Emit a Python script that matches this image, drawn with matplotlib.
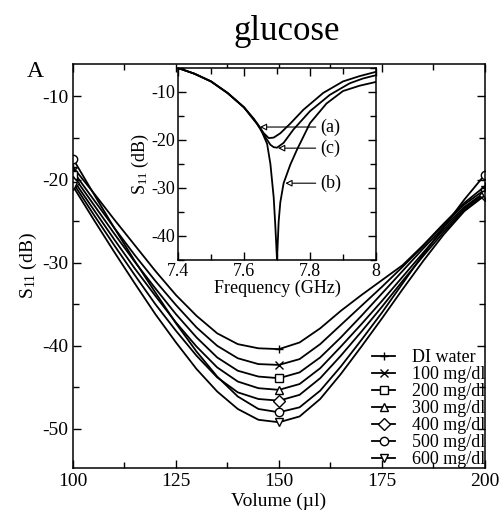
import matplotlib
matplotlib.use('Agg')
import matplotlib.pyplot as plt
from matplotlib.ticker import MultipleLocator

plt.rcParams['font.family'] = ['Liberation Serif', 'DejaVu Serif']
plt.rcParams['mathtext.fontset'] = 'custom'
plt.rcParams['mathtext.rm'] = 'Liberation Serif'
plt.rcParams['mathtext.it'] = 'Liberation Serif:italic'
plt.rcParams['axes.unicode_minus'] = False

# Volumen (µl) y S11 (dB), cada 5 µl
volumen = [100, 105, 110, 115, 120, 125, 130, 135, 140, 145, 150,
           155, 160, 165, 170, 175, 180, 185, 190, 195, 200]
s11_di = [-18.5, -21.6, -24.8, -27.9, -31.0, -33.9, -36.4, -38.5, -39.8, -40.3, -40.4,
          -39.6, -37.9, -35.8, -33.9, -32.1, -30.3, -27.9, -25.3, -22.8, -20.8]
s11_100 = [-19.0, -22.4, -25.8, -29.1, -32.2, -35.1, -37.8, -40.0, -41.5, -42.2, -42.3,
           -41.6, -39.8, -37.5, -35.2, -32.9, -30.5, -28.0, -25.4, -23.0, -21.2]
s11_200 = [-19.5, -23.0, -26.5, -29.9, -33.1, -36.2, -39.0, -41.4, -43.0, -43.7, -43.9,
           -43.2, -41.4, -39.0, -36.4, -33.7, -31.0, -28.3, -25.7, -23.3, -21.5]
s11_300 = [-20.0, -23.6, -27.2, -30.7, -34.0, -37.2, -40.1, -42.6, -44.3, -45.1, -45.3,
           -44.6, -42.7, -40.1, -37.4, -34.6, -31.7, -28.8, -26.0, -23.5, -21.6]
s11_400 = [-20.4, -24.2, -27.9, -31.5, -35.0, -38.2, -41.2, -43.8, -45.6, -46.4, -46.6,
           -45.9, -43.9, -41.2, -38.3, -35.3, -32.2, -29.2, -26.3, -23.7, -21.8]
s11_500 = [-17.5, -21.7, -25.8, -29.8, -33.6, -37.3, -40.7, -43.7, -46.1, -47.6, -48.0,
           -47.4, -45.4, -42.5, -39.3, -36.0, -32.5, -29.0, -25.7, -22.4, -19.4]
s11_600 = [-20.8, -24.8, -28.7, -32.5, -36.2, -39.6, -42.8, -45.5, -47.6, -48.9, -49.2,
           -48.5, -46.4, -43.4, -40.1, -36.7, -33.2, -29.8, -26.6, -23.8, -21.9]
etiquetas = ['DI water', '100 mg/dl', '200 mg/dl', '300 mg/dl',
             '400 mg/dl', '500 mg/dl', '600 mg/dl']
marcadores = ['+', 'x', 's', '^', 'D', 'o', 'v']

# Recuadro: S11 frente a frecuencia (GHz)
frec_a = [7.40, 7.45, 7.50, 7.55, 7.60, 7.64, 7.66, 7.675, 7.69, 7.71, 7.74,
          7.78, 7.84, 7.90, 7.95, 8.00]
s11_a = [-5.0, -6.2, -7.8, -10.2, -13.2, -16.6, -18.6, -19.6, -19.5, -18.6, -16.6,
         -13.7, -10.2, -7.8, -6.7, -5.8]
frec_c = [7.40, 7.45, 7.50, 7.55, 7.60, 7.64, 7.66, 7.68, 7.69, 7.70, 7.72, 7.75,
          7.80, 7.86, 7.92, 7.96, 8.00]
s11_c = [-5.0, -6.2, -7.8, -10.2, -13.2, -16.7, -18.9, -21.0, -21.5, -21.6, -20.6, -17.8,
         -14.0, -10.6, -8.2, -7.2, -6.5]
frec_b = [7.40, 7.45, 7.50, 7.55, 7.60, 7.63, 7.65, 7.67, 7.68, 7.69, 7.695, 7.70,
          7.705, 7.71, 7.72, 7.74, 7.76, 7.80, 7.85, 7.90, 7.95, 8.00]
s11_b = [-5.0, -6.2, -7.8, -10.2, -13.2, -15.6, -17.6, -20.8, -25.0, -32.0, -38.0, -45.0,
         -37.0, -33.0, -29.0, -25.2, -22.1, -16.5, -12.4, -9.8, -8.7, -7.9]

fig = plt.figure(figsize=(5.02, 5.17), dpi=100)
ax = fig.add_axes([0.1454, 0.0948, 0.8207, 0.7814])

series = [s11_di, s11_100, s11_200, s11_300, s11_400, s11_500, s11_600]
for valores, etiqueta, marcador in zip(series, etiquetas, marcadores):
    ax.plot(volumen, valores, color='black', lw=1.3, marker=marcador,
            markevery=[0, 10, 20], markersize=6, mfc='white', mec='black',
            mew=1.0, label=etiqueta)

ax.set_xlim(100, 200)
ax.set_ylim(-54.7, -6.1)
ax.xaxis.set_major_locator(MultipleLocator(25))
ax.xaxis.set_minor_locator(MultipleLocator(12.5))
ax.yaxis.set_major_locator(MultipleLocator(10))
ax.yaxis.set_minor_locator(MultipleLocator(5))
ax.tick_params(which='both', direction='in', top=True, right=True, width=1.0, labelsize=14)
ax.tick_params(which='major', length=6)
ax.tick_params(which='minor', length=4.5)
for s in ax.spines.values():
    s.set_linewidth(1.1)
ax.set_xlabel('Volume (µl)', fontsize=14, labelpad=2)
ax.set_ylabel(r'S$_{\mathrm{11}}$ (dB)', fontsize=14, labelpad=2)
ax.legend(loc='lower right', frameon=False, fontsize=13, labelspacing=0.0,
          handlelength=1.3, handletextpad=0.9, borderaxespad=0.0, borderpad=0.0)

fig.text(0.572, 0.94, 'glucose', fontsize=25, ha='center', va='center')
fig.text(0.053, 0.862, 'A', fontsize=17, ha='left', va='center')

# Recuadro
axi = fig.add_axes([0.3546, 0.4971, 0.3944, 0.3714])
axi.plot(frec_a, s11_a, color='black', lw=1.3)
axi.plot(frec_c, s11_c, color='black', lw=1.3)
axi.plot(frec_b, s11_b, color='black', lw=1.3)
axi.set_xlim(7.4, 8.0)
axi.set_ylim(-45, -5)
axi.xaxis.set_major_locator(MultipleLocator(0.2))
axi.xaxis.set_minor_locator(MultipleLocator(0.1))
axi.yaxis.set_major_locator(MultipleLocator(10))
axi.yaxis.set_minor_locator(MultipleLocator(5))
axi.set_xticks([7.4, 7.6, 7.8, 8.0], ['7.4', '7.6', '7.8', '8'])
axi.tick_params(which='both', direction='in', top=True, right=True, width=1.0, labelsize=13, pad=2)
axi.tick_params(which='major', length=6)
axi.tick_params(which='minor', length=4.5)
for s in axi.spines.values():
    s.set_linewidth(1.1)
axi.set_xlabel('Frequency (GHz)', fontsize=13, labelpad=0)
axi.set_ylabel(r'S$_{\mathrm{11}}$ (dB)', fontsize=13, labelpad=0)

flecha = dict(arrowstyle='-|>', color='black', fc='white', lw=0.8,
              mutation_scale=10, shrinkA=1, shrinkB=0)
axi.annotate('(a)', xy=(7.648, -17.3), xytext=(7.83, -17.3), fontsize=13,
             va='center', ha='left', arrowprops=flecha)
axi.annotate('(c)', xy=(7.703, -21.7), xytext=(7.83, -21.7), fontsize=13,
             va='center', ha='left', arrowprops=flecha)
axi.annotate('(b)', xy=(7.725, -29.0), xytext=(7.83, -29.0), fontsize=13,
             va='center', ha='left', arrowprops=flecha)

plt.savefig('out.png', dpi=100)
